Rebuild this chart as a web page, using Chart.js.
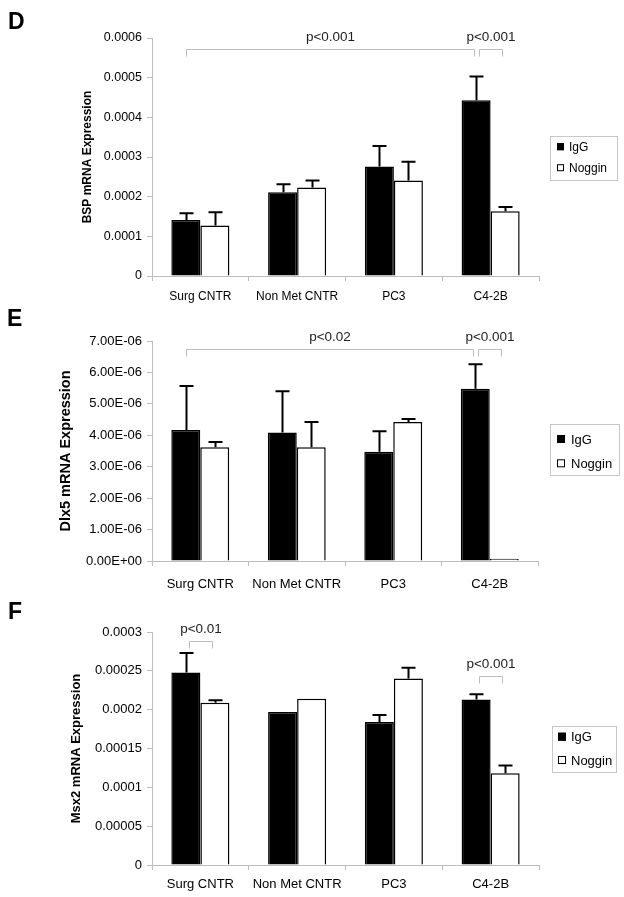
<!DOCTYPE html>
<html><head><meta charset="utf-8">
<script src="https://cdn.jsdelivr.net/npm/chart.js@4.4.1/dist/chart.umd.min.js"></script>
<style>
html,body{margin:0;padding:0;background:#fff}
body{width:624px;height:897px;position:relative;overflow:hidden;font-family:'Liberation Sans',Arial,sans-serif}
.panel{position:absolute;left:0;width:624px}
.letter{position:absolute;font-weight:bold;font-size:23px;line-height:23px;color:#000;font-family:'Liberation Sans',Arial,sans-serif}
</style></head>
<body>
<div class="panel" style="top:0;height:306px"><canvas id="cD" width="624" height="306"></canvas></div>
<div class="panel" style="top:300px;height:296px"><canvas id="cE" width="624" height="296"></canvas></div>
<div class="panel" style="top:590px;height:307px"><canvas id="cF" width="624" height="307"></canvas></div>
<div class="letter" style="left:8px;top:10px">D</div>
<div class="letter" style="left:7px;top:307px">E</div>
<div class="letter" style="left:8px;top:600px">F</div>
<script>
// ---------- data ----------
const categories = ['Surg CNTR', 'Non Met CNTR', 'PC3', 'C4-2B'];
const seriesNames = ['IgG', 'Noggin'];

const bspIgG        = [0.000141, 0.000211, 0.000276, 0.000443];
const bspIgGErr     = [0.000017, 0.000020, 0.000052, 0.000060];
const bspNoggin     = [0.000127, 0.000223, 0.000241, 0.000163];
const bspNogginErr  = [0.000034, 0.000018, 0.000047, 0.000011];
const bspTicks      = ['0', '0.0001', '0.0002', '0.0003', '0.0004', '0.0005', '0.0006'];

const dlx5IgG       = [4.17e-6, 4.09e-6, 3.48e-6, 5.48e-6];
const dlx5IgGErr    = [1.40e-6, 1.31e-6, 0.65e-6, 0.78e-6];
const dlx5Noggin    = [3.62e-6, 3.62e-6, 4.42e-6, 0.07e-6];
const dlx5NogginErr = [0.17e-6, 0.80e-6, 0.10e-6, 0];
const dlx5Ticks     = ['0.00E+00', '1.00E-06', '2.00E-06', '3.00E-06', '4.00E-06', '5.00E-06', '6.00E-06', '7.00E-06'];

const msx2IgG       = [0.000248, 0.000197, 0.000184, 0.000213];
const msx2IgGErr    = [0.000025, 0, 0.000009, 0.000007];
const msx2Noggin    = [0.000209, 0.000214, 0.000240, 0.000118];
const msx2NogginErr = [0.000003, 0, 0.000014, 0.000010];
const msx2Ticks     = ['0', '0.00005', '0.0001', '0.00015', '0.0002', '0.00025', '0.0003'];

// significance brackets: [fromCategory, fromSeries, toCategory, toSeries, yValue, label]
const bspBrackets  = [[0, 0, 3, 0, 0.000573, 'p<0.001'], [3, 0, 3, 1, 0.000573, 'p<0.001']];
const dlx5Brackets = [[0, 0, 3, 0, 6.74e-6, 'p<0.02'], [3, 0, 3, 1, 6.74e-6, 'p<0.001']];
const msx2Brackets = [[0, 0, 0, 1, 0.000289, 'p<0.01'], [3, 0, 3, 1, 0.000243, 'p<0.001']];

// ---------- plugins ----------
const FONT = "'Liberation Sans', Arial, sans-serif";

const errorBarPlugin = {
  id: 'errorBars',
  afterDatasetsDraw(chart) {
    const ctx = chart.ctx, ys = chart.scales.y;
    ctx.save();
    ctx.strokeStyle = '#000';
    ctx.lineWidth = 2;
    chart.data.datasets.forEach((ds, di) => {
      const meta = chart.getDatasetMeta(di);
      meta.data.forEach((el, i) => {
        const e = ds.errors[i];
        if (!e) return;
        const top = ys.getPixelForValue(ds.data[i] + e);
        const x = Math.round(el.x) + 0.5;
        ctx.beginPath();
        ctx.moveTo(x, el.y);
        ctx.lineTo(x, top);
        ctx.moveTo(x - 7, top);
        ctx.lineTo(x + 7, top);
        ctx.stroke();
      });
    });
    ctx.restore();
  }
};

const bracketPlugin = {
  id: 'brackets',
  afterDraw(chart, args, opts) {
    const ctx = chart.ctx, ys = chart.scales.y;
    ctx.save();
    ctx.strokeStyle = '#bdbdbd';
    ctx.lineWidth = 1;
    ctx.fillStyle = '#222';
    ctx.font = opts.fontSize + 'px ' + FONT;
    ctx.textAlign = 'center';
    ctx.textBaseline = 'middle';
    (opts.list || []).forEach(b => {
      const [c0, s0, c1, s1, yv, label] = b;
      const small = (c0 === c1);
      let x0 = chart.getDatasetMeta(s0).data[c0].x;
      let x1 = chart.getDatasetMeta(s1).data[c1].x;
      if (small) { x0 += opts.smallInsetL; x1 -= opts.smallInsetR; } else { x1 -= 2; }
      const y = Math.round(ys.getPixelForValue(yv)) + 0.5;
      x0 = Math.round(x0) + 0.5; x1 = Math.round(x1) + 0.5;
      ctx.beginPath();
      ctx.moveTo(x0, y + opts.drop); ctx.lineTo(x0, y); ctx.lineTo(x1, y); ctx.lineTo(x1, y + opts.drop);
      ctx.stroke();
      ctx.fillText(label, (x0 + x1) / 2, y - opts.textGap);
    });
    ctx.restore();
  }
};

const boxLegendPlugin = {
  id: 'boxLegend',
  afterDraw(chart, args, o) {
    const ctx = chart.ctx;
    ctx.save();
    ctx.strokeStyle = '#c8c8c8';
    ctx.lineWidth = 1;
    ctx.strokeRect(o.x + 0.5, o.y + 0.5, o.w, o.h);
    ctx.font = o.fontSize + 'px ' + FONT;
    ctx.textBaseline = 'middle';
    ctx.textAlign = 'left';
    chart.data.datasets.forEach((ds, i) => {
      const cy = o.rows[i];
      ctx.fillStyle = ds.backgroundColor;
      ctx.fillRect(o.markX, cy - o.mark / 2, o.mark, o.mark);
      ctx.strokeStyle = '#000';
      ctx.lineWidth = 1;
      ctx.strokeRect(o.markX + 0.5, cy - o.mark / 2 + 0.5, o.mark - 1, o.mark - 1);
      ctx.fillStyle = '#000';
      ctx.fillText(ds.label, o.textX, cy + 1);
    });
    ctx.restore();
  }
};

function makeChart(id, cfg) {
  const step = cfg.max / (cfg.tickLabels.length - 1);
  return new Chart(document.getElementById(id), {
    type: 'bar',
    data: {
      labels: categories,
      datasets: [
        { label: seriesNames[0], data: cfg.igg, errors: cfg.iggErr, backgroundColor: '#000000', borderColor: '#000', borderWidth: 1.5 },
        { label: seriesNames[1], data: cfg.nog, errors: cfg.nogErr, backgroundColor: '#ffffff', borderColor: '#000', borderWidth: 1.5 }
      ]
    },
    options: {
      responsive: false,
      animation: false,
      events: [],
      layout: { padding: { left: 0, right: cfg.padRight, top: cfg.padTop, bottom: 0 } },
      datasets: { bar: { categoryPercentage: 0.6, barPercentage: 1.0 } },
      scales: {
        x: {
          type: 'category',
          offset: true,
          afterFit: s => { s.height = cfg.xHeight; },
          grid: { offset: true, drawOnChartArea: false, tickLength: 5, color: '#bdbdbd', lineWidth: 1 },
          border: { color: '#bdbdbd', width: 1 },
          ticks: { color: '#000', font: { family: FONT, size: cfg.xFont }, padding: cfg.xPad, maxRotation: 0, autoSkip: false }
        },
        y: {
          min: 0, max: cfg.max,
          afterFit: s => { s.width = 152; },
          afterBuildTicks: s => { s.ticks = cfg.tickLabels.map((t, i) => ({ value: i * step })); },
          grid: { drawOnChartArea: false, tickLength: 5, color: '#bdbdbd', lineWidth: 1 },
          border: { color: '#bdbdbd', width: 1 },
          ticks: {
            color: '#000', padding: 5,
            font: { family: FONT, size: cfg.yFont },
            callback: v => cfg.tickLabels[Math.round(v / step)]
          },
          title: {
            display: true, text: cfg.title, color: '#000',
            font: { family: FONT, size: cfg.titleFont, weight: 'bold' },
            padding: { top: cfg.titlePad, bottom: 0 }
          }
        }
      },
      plugins: {
        legend: { display: false },
        tooltip: { enabled: false },
        brackets: { list: cfg.brackets, fontSize: 13.5, drop: 7, textGap: 12, smallInsetL: 3, smallInsetR: 3 },
        boxLegend: cfg.legend
      }
    },
    plugins: [errorBarPlugin, bracketPlugin, boxLegendPlugin]
  });
}

makeChart('cD', {
  igg: bspIgG, iggErr: bspIgGErr, nog: bspNoggin, nogErr: bspNogginErr,
  max: 0.0006, tickLabels: bspTicks, title: 'BSP mRNA Expression', brackets: bspBrackets,
  padRight: 85, padTop: 38, xHeight: 30, xFont: 12, xPad: 8, yFont: 12.5, titleFont: 12, titlePad: 80.5,
  legend: { x: 550, y: 136, w: 67, h: 44, fontSize: 12, markX: 557, mark: 7, textX: 569, rows: [146.7, 167.7] }
});
makeChart('cE', {
  igg: dlx5IgG, iggErr: dlx5IgGErr, nog: dlx5Noggin, nogErr: dlx5NogginErr,
  max: 7e-6, tickLabels: dlx5Ticks, title: 'Dlx5 mRNA Expression', brackets: dlx5Brackets,
  padRight: 86, padTop: 41, xHeight: 35, xFont: 13, xPad: 11, yFont: 13, titleFont: 14.5, titlePad: 57,
  legend: { x: 550, y: 124, w: 69, h: 51, fontSize: 13, markX: 557, mark: 8, textX: 571, rows: [139, 163.3] }
});
makeChart('cF', {
  igg: msx2IgG, iggErr: msx2IgGErr, nog: msx2Noggin, nogErr: msx2NogginErr,
  max: 0.0003, tickLabels: msx2Ticks, title: 'Msx2 mRNA Expression', brackets: msx2Brackets,
  padRight: 85, padTop: 42, xHeight: 32, xFont: 13, xPad: 7, yFont: 13, titleFont: 13, titlePad: 69,
  legend: { x: 552, y: 136, w: 64, h: 46, fontSize: 13, markX: 558, mark: 8, textX: 571, rows: [146.7, 170] }
});
</script>
</body></html>
